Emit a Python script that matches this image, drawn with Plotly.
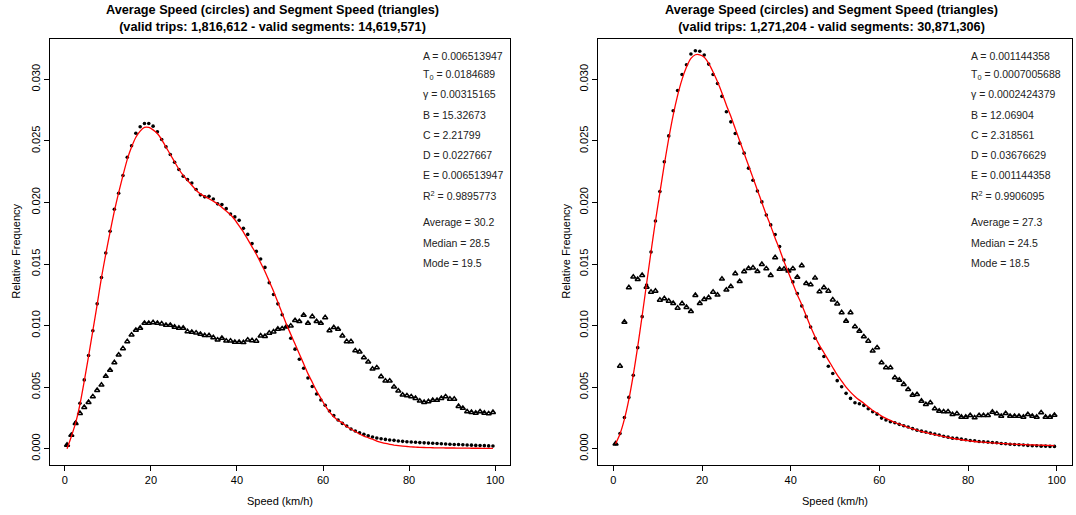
import plotly.graph_objects as go

# ---------------- data ----------------
speed_bins = [0.5, 1.5, 2.5, 3.5, 4.5, 5.5, 6.5, 7.5, 8.5, 9.5,
              10.5, 11.5, 12.5, 13.5, 14.5, 15.5, 16.5, 17.5, 18.5, 19.5,
              20.5, 21.5, 22.5, 23.5, 24.5, 25.5, 26.5, 27.5, 28.5, 29.5,
              30.5, 31.5, 32.5, 33.5, 34.5, 35.5, 36.5, 37.5, 38.5, 39.5,
              40.5, 41.5, 42.5, 43.5, 44.5, 45.5, 46.5, 47.5, 48.5, 49.5,
              50.5, 51.5, 52.5, 53.5, 54.5, 55.5, 56.5, 57.5, 58.5, 59.5,
              60.5, 61.5, 62.5, 63.5, 64.5, 65.5, 66.5, 67.5, 68.5, 69.5,
              70.5, 71.5, 72.5, 73.5, 74.5, 75.5, 76.5, 77.5, 78.5, 79.5,
              80.5, 81.5, 82.5, 83.5, 84.5, 85.5, 86.5, 87.5, 88.5, 89.5,
              90.5, 91.5, 92.5, 93.5, 94.5, 95.5, 96.5, 97.5, 98.5, 99.5]

# Left panel
left_avg = [0.0003, 0.00109, 0.00212, 0.00369, 0.00559, 0.00757, 0.00958, 0.01177, 0.01391, 0.01590,
            0.01766, 0.01945, 0.02075, 0.02219, 0.02368, 0.02461, 0.02563, 0.02615, 0.02642, 0.02642,
            0.0262, 0.02574, 0.02512, 0.02452, 0.0239, 0.02327, 0.02268, 0.02213, 0.02186, 0.02159,
            0.02105, 0.02062, 0.02046, 0.0205, 0.02029, 0.01989, 0.01983, 0.0195, 0.01907, 0.01883,
            0.01855, 0.0179, 0.01741, 0.01666, 0.01603, 0.01541, 0.01473, 0.01348, 0.01253, 0.01177,
            0.01088, 0.00993, 0.00898, 0.00809, 0.00727, 0.00654, 0.00575, 0.00505, 0.00445, 0.00396,
            0.00353, 0.00307, 0.00269, 0.00234, 0.00206, 0.00185, 0.0016, 0.00144, 0.0013, 0.00117,
            0.00106, 0.00095, 0.00087, 0.00081, 0.00076, 0.00071, 0.00068, 0.00063, 0.0006, 0.00057,
            0.00055, 0.00053, 0.0005, 0.00048, 0.00046, 0.00044, 0.00042, 0.0004, 0.00038, 0.00037,
            0.00035, 0.00034, 0.00032, 0.0003, 0.00029, 0.00027, 0.00026, 0.00025, 0.00023, 0.00022]

left_seg = [0.0003, 0.0011, 0.00207, 0.00288, 0.00337, 0.00377, 0.00423, 0.00475, 0.00518, 0.00589,
            0.00638, 0.0070, 0.00762, 0.00814, 0.00871, 0.00925, 0.00963, 0.0098, 0.0102, 0.0102,
            0.01025, 0.0102, 0.01015, 0.01004, 0.01004, 0.00988, 0.0098, 0.0098, 0.00952, 0.00947,
            0.00941, 0.00931, 0.0092, 0.0092, 0.00903, 0.00884, 0.00898, 0.00876, 0.00876, 0.00866,
            0.00866, 0.00863, 0.00884, 0.00879, 0.00875, 0.00917, 0.00913, 0.0094, 0.0095, 0.00972,
            0.00975, 0.0099, 0.00998, 0.01042, 0.01034, 0.01085, 0.0102, 0.01074, 0.01034, 0.0102,
            0.01066, 0.0096, 0.00985, 0.00971, 0.00917, 0.00871, 0.00871, 0.00797, 0.00787, 0.0074,
            0.00705, 0.00648, 0.00659, 0.00586, 0.00551, 0.00551, 0.00502, 0.0047, 0.00437, 0.00431,
            0.00423, 0.0041, 0.00388, 0.00377, 0.00383, 0.00394, 0.00394, 0.0041, 0.00423, 0.00404,
            0.00404, 0.00345, 0.00329, 0.00301, 0.00296, 0.0029, 0.00301, 0.0029, 0.00285, 0.00296]

left_fit = [0.0000, 0.0010, 0.0021, 0.0036, 0.0055, 0.0075, 0.0096, 0.0117, 0.0139, 0.0158,
            0.0176, 0.0193, 0.0208, 0.0222, 0.0235, 0.0245, 0.0253, 0.0258, 0.0261, 0.0261,
            0.0259, 0.0256, 0.0251, 0.0245, 0.0239, 0.0233, 0.0227, 0.0222, 0.0218, 0.0214,
            0.0210, 0.0207, 0.0205, 0.0203, 0.0201, 0.0199, 0.0196, 0.0193, 0.0190, 0.0186,
            0.0181, 0.0176, 0.0170, 0.0164, 0.0158, 0.0151, 0.0144, 0.0136, 0.0128, 0.0119,
            0.0110, 0.0101, 0.0093, 0.0085, 0.0077, 0.0069, 0.0061, 0.0054, 0.0047, 0.0041,
            0.0035, 0.0030, 0.0026, 0.0023, 0.0021, 0.0018, 0.0016, 0.0014, 0.0012, 0.00103,
            0.0009, 0.00077, 0.00062, 0.00052, 0.00043, 0.00036, 0.0003, 0.00025, 0.00021, 0.00018,
            0.00015, 0.00013, 0.00011, 0.0001, 0.00009, 0.00008, 0.00007, 0.00007, 0.00006, 0.00006,
            0.00006, 0.00005, 0.00005, 0.00005, 0.00004, 0.00004, 0.00004, 0.00003, 0.00003, 0.00003]

# Right panel
right_avg = [0.00041, 0.00124, 0.00254, 0.00417, 0.00596, 0.00821, 0.01073, 0.0133, 0.01598, 0.0185,
             0.02089, 0.0233, 0.02541, 0.02745, 0.0291, 0.0304, 0.03119, 0.03206, 0.03233, 0.03228,
             0.03198, 0.03124, 0.0304, 0.02967, 0.02862, 0.02737, 0.02655, 0.02561, 0.02482, 0.02401,
             0.02279, 0.02181, 0.02094, 0.02005, 0.01899, 0.01818, 0.0174, 0.01642, 0.01533, 0.01447,
             0.01355, 0.0126, 0.0116, 0.01073, 0.00989, 0.00897, 0.00815, 0.00749, 0.0067, 0.00611,
             0.00553, 0.00504, 0.0045, 0.00409, 0.00374, 0.00366, 0.00352, 0.00325, 0.00301, 0.00281,
             0.00249, 0.00233, 0.00219, 0.00211, 0.00198, 0.00187, 0.00176, 0.00163, 0.00151, 0.00143,
             0.00135, 0.00127, 0.00119, 0.00111, 0.00102, 0.00094, 0.00086, 0.00084, 0.00078, 0.00073,
             0.00067, 0.00065, 0.00059, 0.00057, 0.00054, 0.00051, 0.00049, 0.00043, 0.0004, 0.00037,
             0.00035, 0.00032, 0.0003, 0.00027, 0.00024, 0.00024, 0.00021, 0.00021, 0.00019, 0.00019]

right_seg = [0.0004, 0.00672, 0.01029, 0.01309, 0.01395, 0.01376, 0.01409, 0.01313, 0.01273, 0.01281,
             0.01208, 0.0122, 0.012, 0.01181, 0.01143, 0.01179, 0.01149, 0.01116, 0.01246, 0.01181,
             0.01214, 0.01228, 0.01273, 0.01249, 0.01379, 0.0129, 0.01318, 0.01423, 0.01359, 0.01439,
             0.01465, 0.0147, 0.0144, 0.01498, 0.01463, 0.01409, 0.01553, 0.01458, 0.01460, 0.01444,
             0.01463, 0.01394, 0.01488, 0.01343, 0.01333, 0.01387, 0.01276, 0.01309, 0.01281, 0.0121,
             0.01177, 0.01106, 0.01037, 0.01106, 0.00992, 0.00956, 0.0091, 0.00875, 0.00794, 0.00821,
             0.00699, 0.00659, 0.00659, 0.00577, 0.00558, 0.00523, 0.00482, 0.00436, 0.00441, 0.00387,
             0.0036, 0.00374, 0.00325, 0.00306, 0.00301, 0.00301, 0.00279, 0.00285, 0.00257, 0.00257,
             0.00271, 0.00252, 0.00271, 0.00271, 0.00271, 0.00298, 0.00285, 0.00265, 0.00287, 0.00265,
             0.00265, 0.00265, 0.00257, 0.00279, 0.00265, 0.00257, 0.00293, 0.00257, 0.00257, 0.00273]

right_fit = [0.0004, 0.0012, 0.0024, 0.0040, 0.0060, 0.0083, 0.0108, 0.0134, 0.0160, 0.0185,
             0.0208, 0.0231, 0.0252, 0.0271, 0.0287, 0.0300, 0.0310, 0.0317, 0.0320, 0.0320,
             0.0318, 0.0313, 0.0306, 0.0298, 0.0289, 0.0279, 0.0270, 0.0260, 0.0250, 0.0240,
             0.0230, 0.0220, 0.0210, 0.0200, 0.0190, 0.0181, 0.0171, 0.0162, 0.0152, 0.0143,
             0.0134, 0.0125, 0.0117, 0.0108, 0.0099, 0.0091, 0.0084, 0.0078, 0.0072, 0.0066,
             0.0060, 0.0055, 0.0050, 0.0046, 0.00425, 0.00395, 0.0037, 0.0034, 0.0031, 0.0029,
             0.00265, 0.00246, 0.0023, 0.00213, 0.0020, 0.00187, 0.00173, 0.00162, 0.00151, 0.0014,
             0.00132, 0.00123, 0.00115, 0.00107, 0.00099, 0.00092, 0.00085, 0.00079, 0.00073, 0.00068,
             0.00063, 0.00059, 0.00056, 0.00053, 0.0005, 0.00047, 0.00045, 0.00043, 0.00041, 0.00039,
             0.00037, 0.00035, 0.00034, 0.00032, 0.00031, 0.0003, 0.00029, 0.00028, 0.00027, 0.00026]

titles = ["<b>Average Speed (circles) and Segment Speed (triangles)</b><br><b>(valid trips: 1,816,612 - valid segments: 14,619,571)</b>",
          "<b>Average Speed (circles) and Segment Speed (triangles)</b><br><b>(valid trips: 1,271,204 - valid segments: 30,871,306)</b>"]

left_params = ["A = 0.006513947", "T<sub>0</sub> = 0.0184689", "γ = 0.00315165", "B = 15.32673",
               "C = 2.21799", "D = 0.0227667", "E = 0.006513947", "R<sup>2</sup> = 0.9895773",
               "Average = 30.2", "Median = 28.5", "Mode = 19.5"]
right_params = ["A = 0.001144358", "T<sub>0</sub> = 0.0007005688", "γ = 0.0002424379", "B = 12.06904",
                "C = 2.318561", "D = 0.03676629", "E = 0.001144358", "R<sup>2</sup> = 0.9906095",
                "Average = 27.3", "Median = 24.5", "Mode = 18.5"]

y_ticks = [0.000, 0.005, 0.010, 0.015, 0.020, 0.025, 0.030]
x_ticks = [0, 20, 40, 60, 80, 100]

# ---------------- layout geometry (pixels) ----------------
W, H = 1076, 515
FONT = "Liberation Sans, Arial, Helvetica, sans-serif"
panels = [
    dict(x0=50, x1=510, avg=left_avg, seg=left_seg, fit=left_fit, params=left_params,
         title=titles[0], title_x=272, text_x=421, ylab_x=16),
    dict(x0=598, x1=1072, avg=right_avg, seg=right_seg, fit=right_fit, params=right_params,
         title=titles[1], title_x=831, text_x=969, ylab_x=566),
]
Y_TOP, Y_BOT = 39, 464.5
param_y = [56, 75, 94.5, 115, 135, 155, 175, 195.5, 222, 242.5, 262.5]

def fx(p):
    return p / W

def fy(p):
    return 1 - p / H

fig = go.Figure()
annotations = []
for k, pn in enumerate(panels):
    sfx = "" if k == 0 else str(k + 1)
    xa, ya = "x" + sfx, "y" + sfx
    fig.add_trace(go.Scatter(x=speed_bins, y=pn["avg"], mode="markers", xaxis=xa, yaxis=ya,
                             marker=dict(symbol="circle", size=3.6, color="black"),
                             showlegend=False, name="Average Speed"))
    fig.add_trace(go.Scatter(x=speed_bins, y=pn["seg"], mode="markers", xaxis=xa, yaxis=ya,
                             marker=dict(symbol="triangle-up-open", size=4.5, color="black",
                                         line=dict(width=1.5, color="black")),
                             showlegend=False, name="Segment Speed"))
    fig.add_trace(go.Scatter(x=speed_bins, y=pn["fit"], mode="lines", xaxis=xa, yaxis=ya,
                             line=dict(color="red", width=1.3, shape="spline", smoothing=0.6),
                             showlegend=False, name="Fit"))
    axis_common = dict(showline=True, mirror=True, linecolor="black", linewidth=1,
                       ticks="outside", ticklen=5, tickwidth=1, tickcolor="black",
                       showgrid=False, zeroline=False, automargin=False,
                       tickfont=dict(family=FONT, size=11, color="black"))
    fig.layout["xaxis" + sfx] = dict(axis_common, domain=[fx(pn["x0"]), fx(pn["x1"])],
                                     range=[-3.46, 103.46], tickvals=x_ticks, anchor=ya)
    fig.layout["yaxis" + sfx] = dict(axis_common, domain=[fy(Y_BOT), fy(Y_TOP)],
                                     range=[-0.00128, 0.03328], tickvals=y_ticks,
                                     tickformat=".3f", tickangle=-90, anchor=xa)
    cx = (pn["x0"] + pn["x1"]) / 2
    annotations.append(dict(text=pn["title"], x=fx(pn["title_x"]), y=fy(18), xref="paper", yref="paper",
                            showarrow=False, xanchor="center", yanchor="middle",
                            font=dict(family=FONT, size=12.7, color="black")))
    annotations.append(dict(text="Speed (km/h)", x=fx(cx), y=fy(501), xref="paper", yref="paper",
                            showarrow=False, xanchor="center", yanchor="middle",
                            font=dict(family=FONT, size=11, color="black")))
    annotations.append(dict(text="Relative Frequency", x=fx(pn["ylab_x"]), y=fy((Y_TOP + Y_BOT) / 2),
                            xref="paper", yref="paper", showarrow=False, textangle=-90,
                            xanchor="center", yanchor="middle",
                            font=dict(family=FONT, size=11, color="black")))
    for t, yy in zip(pn["params"], param_y):
        annotations.append(dict(text=t, x=fx(pn["text_x"]), y=fy(yy), xref="paper", yref="paper",
                                showarrow=False, xanchor="left", yanchor="middle",
                                font=dict(family=FONT, size=10.5, color="#222222")))

fig.update_layout(width=W, height=H, margin=dict(l=0, r=0, t=0, b=0),
                  paper_bgcolor="white", plot_bgcolor="white",
                  annotations=annotations, showlegend=False)
fig.write_html("out.html", config={"displayModeBar": False},
               post_script="document.body.style.margin='0px';document.body.style.padding='0px';")
